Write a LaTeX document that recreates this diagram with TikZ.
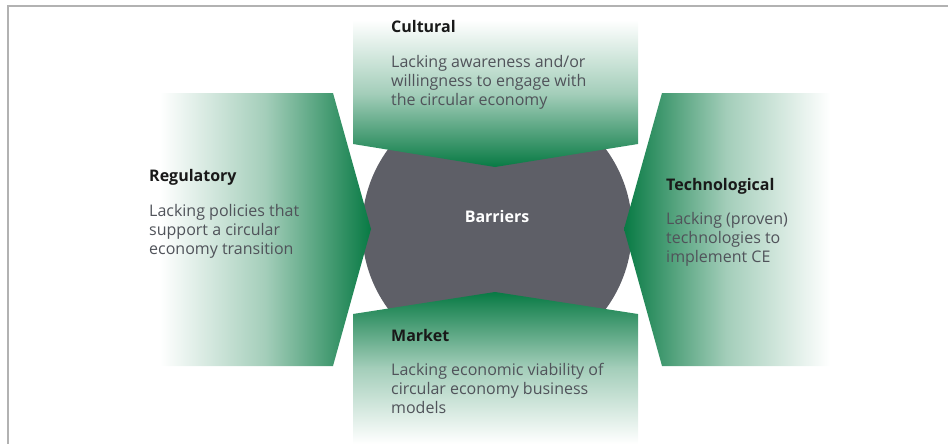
\documentclass[tikz,border=0pt]{standalone}
\usepackage{fontspec}
\setmainfont{Open Sans}
\definecolor{dgreen}{RGB}{8,122,68}
\definecolor{cgray}{RGB}{94,95,103}
\definecolor{bodygray}{RGB}{80,83,90}
\definecolor{framegray}{RGB}{178,178,178}
\begin{document}
\begin{tikzpicture}[x=1pt,y=-1pt,
  ttl/.style={anchor=base west,inner sep=0pt,font=\fontsize{16}{19}\selectfont\bfseries,text=black!90},
  bodytxt/.style={anchor=base west,inner sep=0pt,align=left,font=\fontsize{16}{19}\selectfont,text=bodygray}]
\useasboundingbox (0,0) rectangle (948,444);
\draw[framegray,line width=2pt] (8,444) -- (8,6) -- (948,6);
% central circle
\fill[cgray] (497,229) circle[radius=135pt];
% four shapes
\shade[top color=white,bottom color=dgreen,middle color=dgreen!37] (353,20) -- (638,20) -- (638,144) -- (495,167) -- (353,144) -- cycle;
\shade[top color=dgreen,bottom color=white,middle color=dgreen!37] (353,314) -- (495,292) -- (638,314) -- (638,444) -- (353,444) -- cycle;
\shade[left color=white,right color=dgreen,middle color=dgreen!37] (160,93) -- (333,93) -- (371,229) -- (333,366) -- (160,366) -- cycle;
\shade[left color=dgreen,right color=white,middle color=dgreen!37] (662,93) -- (830,93) -- (830,366) -- (662,366) -- (624,229) -- cycle;
% texts (base anchor = baseline of last line)
\node[anchor=base,inner sep=0pt,font=\fontsize{16}{19}\selectfont\bfseries,text=white] (barriers) at (497,222) {Barriers};
\node[ttl] (cult) at (391,33) {Cultural};
\node[bodytxt] (cultb) at (391,106) {Lacking awareness and/or\\willingness to engage with\\the circular economy};
\node[ttl] (reg) at (149,181) {Regulatory};
\node[bodytxt] (regb) at (149,254) {Lacking policies that\\support a circular\\economy transition};
\node[ttl] (tech) at (666,190) {Technological};
\node[bodytxt] (techb) at (666,262) {Lacking (proven)\\technologies to\\implement CE};
\node[ttl] (mark) at (391,341) {Market};
\node[bodytxt] (markb) at (391,413) {Lacking economic viability of\\circular economy business\\models};
\end{tikzpicture}
\end{document}
